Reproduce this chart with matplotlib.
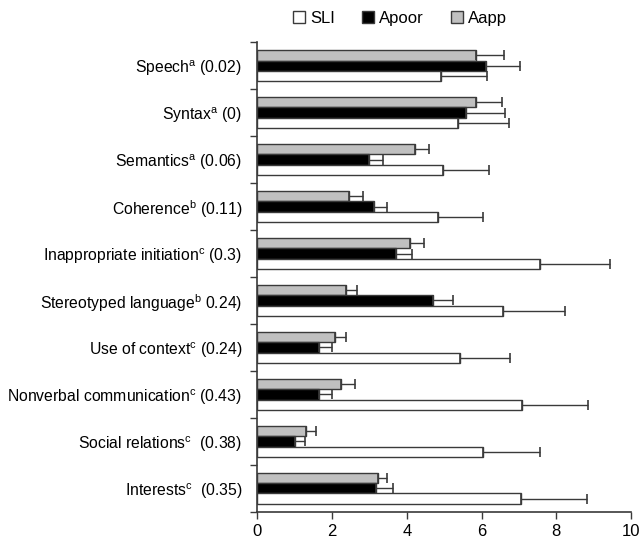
import numpy as np
import matplotlib
matplotlib.use("Agg")
import matplotlib.pyplot as plt
from matplotlib.patches import Patch

plt.rcParams['font.family'] = ['Liberation Sans', 'DejaVu Sans']
plt.rcParams['mathtext.fontset'] = 'custom'
plt.rcParams['mathtext.rm'] = 'Liberation Sans'
plt.rcParams['mathtext.it'] = 'Liberation Sans'

# categories, top to bottom
labels = [
    "Speech$^{\\mathrm{a}}$ (0.02)",
    "Syntax$^{\\mathrm{a}}$ (0)",
    "Semantics$^{\\mathrm{a}}$ (0.06)",
    "Coherence$^{\\mathrm{b}}$ (0.11)",
    "Inappropriate initiation$^{\\mathrm{c}}$ (0.3)",
    "Stereotyped language$^{\\mathrm{b}}$ 0.24)",
    "Use of context$^{\\mathrm{c}}$ (0.24)",
    "Nonverbal communication$^{\\mathrm{c}}$ (0.43)",
    "Social relations$^{\\mathrm{c}}$  (0.38)",
    "Interests$^{\\mathrm{c}}$  (0.35)",
]

sli = [4.92, 5.37, 4.97, 4.84, 7.57, 6.57, 5.42, 7.08, 6.04, 7.05]
sli_err = [1.23, 1.37, 1.23, 1.20, 1.86, 1.65, 1.34, 1.76, 1.52, 1.77]
apoor = [6.12, 5.59, 2.99, 3.13, 3.72, 4.70, 1.65, 1.65, 1.00, 3.18]
apoor_err = [0.91, 1.04, 0.38, 0.35, 0.42, 0.54, 0.35, 0.35, 0.28, 0.45]
aapp = [5.86, 5.86, 4.22, 2.46, 4.09, 2.38, 2.08, 2.23, 1.30, 3.24]
aapp_err = [0.74, 0.69, 0.38, 0.36, 0.36, 0.28, 0.30, 0.39, 0.26, 0.23]

edge = '#3a3a3a'
h = 0.22
y = np.arange(len(labels))

fig, ax = plt.subplots(figsize=(6.4, 5.41), dpi=100)
fig.subplots_adjust(left=0.402, right=0.986, bottom=0.054, top=0.922)

ekw = dict(ecolor=edge, elinewidth=1.0, capsize=3.5, capthick=1.2)
ax.barh(y - h, aapp, height=h, color='#c0c0c0', edgecolor=edge, linewidth=1.0,
        xerr=[np.zeros(10), aapp_err], error_kw=ekw, label='Aapp')
ax.barh(y, apoor, height=h, color='black', edgecolor=edge, linewidth=1.0,
        xerr=[np.zeros(10), apoor_err], error_kw=ekw, label='Apoor')
ax.barh(y + h, sli, height=h, color='white', edgecolor=edge, linewidth=1.0,
        xerr=[np.zeros(10), sli_err], error_kw=ekw, label='SLI')

ax.set_xlim(0, 10)
ax.set_ylim(9.5, -0.5)
ax.set_xticks([0, 2, 4, 6, 8, 10])
ax.set_yticks(y)
ax.set_yticklabels(labels)
ax.set_yticks(np.arange(-0.5, 10, 1), minor=True)
ax.tick_params(axis='y', which='major', length=0, pad=11, labelsize=11.3)
ax.tick_params(axis='y', which='minor', length=5, width=1, color=edge, direction='out')
ax.tick_params(axis='x', length=5, width=1, color=edge, labelsize=12)

for s in ['top', 'right']:
    ax.spines[s].set_visible(False)
for s in ['left', 'bottom']:
    ax.spines[s].set_color(edge)
    ax.spines[s].set_linewidth(1.2)

handles = [Patch(facecolor='white', edgecolor=edge, label='SLI'),
           Patch(facecolor='black', edgecolor=edge, label='Apoor'),
           Patch(facecolor='#c0c0c0', edgecolor=edge, label='Aapp')]
fig.legend(handles=handles, loc='upper center', bbox_to_anchor=(0.625, 1.008), ncol=3,
           frameon=False, fontsize=12, handlelength=0.75, handleheight=0.75,
           handletextpad=0.3, columnspacing=1.6)

fig.savefig('out.png', dpi=100)
